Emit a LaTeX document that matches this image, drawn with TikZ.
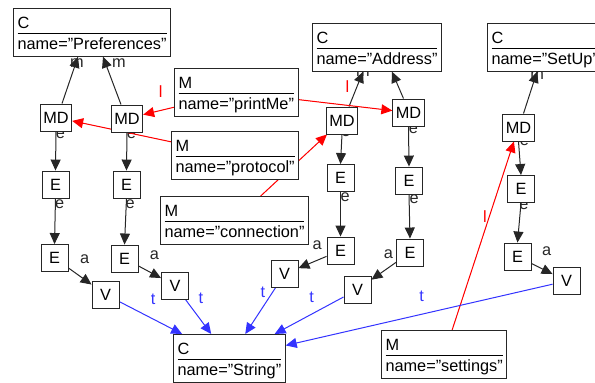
\documentclass[tikz,border=0pt]{standalone}
\usepackage{fontspec}
\setmainfont{Liberation Sans}
\usetikzlibrary{arrows.meta}

% two-part box: kind on top, a rule, then the name
\newcommand\umlbox[2]{{\renewcommand\arraystretch{0}\setlength\arrayrulewidth{0.7pt}%
  \begin{tabular}{@{}l@{}}\rule[-4pt]{0pt}{21pt}#1\\\hline\rule[-4pt]{0pt}{20pt}#2\end{tabular}}}

\pgfdeclarelayer{labels}
\pgfdeclarelayer{edges}
\pgfsetlayers{labels,edges,main}

\tikzset{
  every node/.style={font=\fontsize{16.3}{19}\selectfont},
  cls/.style={draw=black!85, fill=white, line width=1pt, inner xsep=4pt, inner ysep=3pt, anchor=north west},
  sq/.style={draw=black!85, fill=white, line width=0.9pt, minimum width=27pt, minimum height=27pt, inner xsep=3pt, inner ysep=1pt},
  tip/.style={-{Triangle[length=11pt,width=10pt]}},
  blk/.style={tip, draw=black!85, line width=1pt},
  redge/.style={tip, draw=red, fill=red, line width=1pt},
  bedge/.style={tip, draw=blue!80!white, line width=1pt},
  lab/.style={anchor=base west, yshift=13pt, inner sep=0pt},
}

\begin{document}
\begin{tikzpicture}[x=1pt, y=-1pt]
\useasboundingbox (0,0) rectangle (595,383);
\clip (0,0) rectangle (595,383);

% class and member boxes
\node[cls] (pref) at (13,8) {\umlbox{C}{name="Preferences"}};
\node[cls] (addr) at (312,23) {\umlbox{C}{name="Address"}};
\node[cls] (setup) at (487,23) {\umlbox{C}{name="SetUp"}};
\node[cls] (print) at (174,68) {\umlbox{M}{name="printMe"}};
\node[cls] (proto) at (171,131) {\umlbox{M}{name="protocol"}};
\node[cls] (conn) at (160,196) {\umlbox{M}{name="connection"}};
\node[cls] (sett) at (381,330) {\umlbox{M}{name="settings"}};
\node[cls] (str) at (173,334) {\umlbox{C}{name="String"}};

% small nodes
\node[sq] (md1) at (56,117.5) {MD};
\node[sq] (md2) at (127,118.5) {MD};
\node[sq] (md3) at (342,120.5) {MD};
\node[sq] (md4) at (408.5,112.5) {MD};
\node[sq] (md5) at (518.5,127.5) {MD};
\node[sq] (e1a) at (55.5,184.5) {E};
\node[sq] (e1b) at (54.5,258) {E};
\node[sq] (e2a) at (126.5,184.5) {E};
\node[sq] (e2b) at (124.5,258.5) {E};
\node[sq] (e3a) at (340.5,178) {E};
\node[sq] (e3b) at (340.5,250.5) {E};
\node[sq] (e4a) at (409,180.5) {E};
\node[sq] (e4b) at (410,252.5) {E};
\node[sq] (e5a) at (521,189) {E};
\node[sq] (e5b) at (517.5,256.5) {E};
\node[sq] (v1) at (105.5,294.5) {V};
\node[sq] (v2) at (175,285.5) {V};
\node[sq] (v3) at (284.5,274) {V};
\node[sq] (v4) at (357.5,289.5) {V};
\node[sq] (v5) at (566.5,281) {V};

\begin{pgfonlayer}{edges}
% MD -> class
\draw[blk] ([xshift=6pt]md1.north) -- coordinate[midway] (cm1) ([xshift=65pt]pref.south west);
\draw[blk] ([xshift=-6pt]md2.north) -- coordinate[midway] (cm2) ([xshift=90pt]pref.south west);
\draw[blk] ([xshift=7pt]md3.north) -- coordinate[midway] (cm3) ([xshift=51pt]addr.south west);
\draw[blk] ([xshift=-5pt]md4.north) -- coordinate[midway] (cm4) ([xshift=80pt]addr.south west);
\draw[blk] ([xshift=5pt]md5.north) -- coordinate[midway] (cm5) ([xshift=50pt]setup.south west);
% MD -> E -> E
\draw[blk] (md1.south) -- coordinate[midway] (me1) (e1a.north);
\draw[blk] (md2.south) -- coordinate[midway] (me2) (e2a.north);
\draw[blk] (md3.south) -- coordinate[midway] (me3) (e3a.north);
\draw[blk] (md4.south) -- coordinate[midway] (me4) (e4a.north);
\draw[blk] (md5.south) -- coordinate[midway] (me5) (e5a.north);
\draw[blk] (e1a.south) -- coordinate[midway] (ee1) (e1b.north);
\draw[blk] (e2a.south) -- coordinate[midway] (ee2) (e2b.north);
\draw[blk] (e3a.south) -- coordinate[midway] (ee3) (e3b.north);
\draw[blk] (e4a.south) -- coordinate[midway] (ee4) (e4b.north);
\draw[blk] (e5a.south) -- coordinate[midway] (ee5) (e5b.north);
% E -> V
\draw[blk] (e1b) -- coordinate[midway] (ev1) (v1);
\draw[blk] (e2b) -- coordinate[midway] (ev2) (v2);
\draw[blk] (e3b) -- coordinate[midway] (ev3) (v3);
\draw[blk] (e4b) -- coordinate[midway] (ev4) (v4);
\draw[blk] (e5b) -- coordinate[midway] (ev5) (v5);
% M -> MD
\draw[redge] (print) -- coordinate[midway] (rl1) (md2);
\draw[redge] (print) -- coordinate[midway] (rl2) (md4);
\draw[redge] (proto) -- coordinate[midway] (rl3) (md1);
\draw[redge] (conn) -- coordinate[midway] (rl4) (md3);
\draw[redge] (sett) -- coordinate[midway] (rl5) (md5);
% V -> String
\draw[bedge] (v1) -- coordinate[midway] (bt1) (str);
\draw[bedge] (v2) -- coordinate[midway] (bt2) (str);
\draw[bedge] (v3) -- coordinate[midway] (bt3) (str);
\draw[bedge] (v4) -- coordinate[midway] (bt4) (str);
\draw[bedge] (v5) -- coordinate[midway] (bt5) (str);
\end{pgfonlayer}

\begin{pgfonlayer}{labels}
\foreach \c in {cm1,cm2,cm3,cm4,cm5} \node[lab, text=black!85] at (\c) {m};
\foreach \c in {me1,me2,me3,me4,me5,ee1,ee2,ee3,ee4,ee5} \node[lab, text=black!85] at (\c) {e};
\foreach \c in {ev1,ev2,ev3,ev4,ev5} \node[lab, text=black!85] at (\c) {a};
\foreach \c in {rl1,rl2,rl3,rl4,rl5} \node[lab, text=red] at (\c) {l};
\foreach \c in {bt1,bt2,bt3,bt4,bt5} \node[lab, text=blue!80!white] at (\c) {t};
\end{pgfonlayer}
\end{tikzpicture}
\end{document}
